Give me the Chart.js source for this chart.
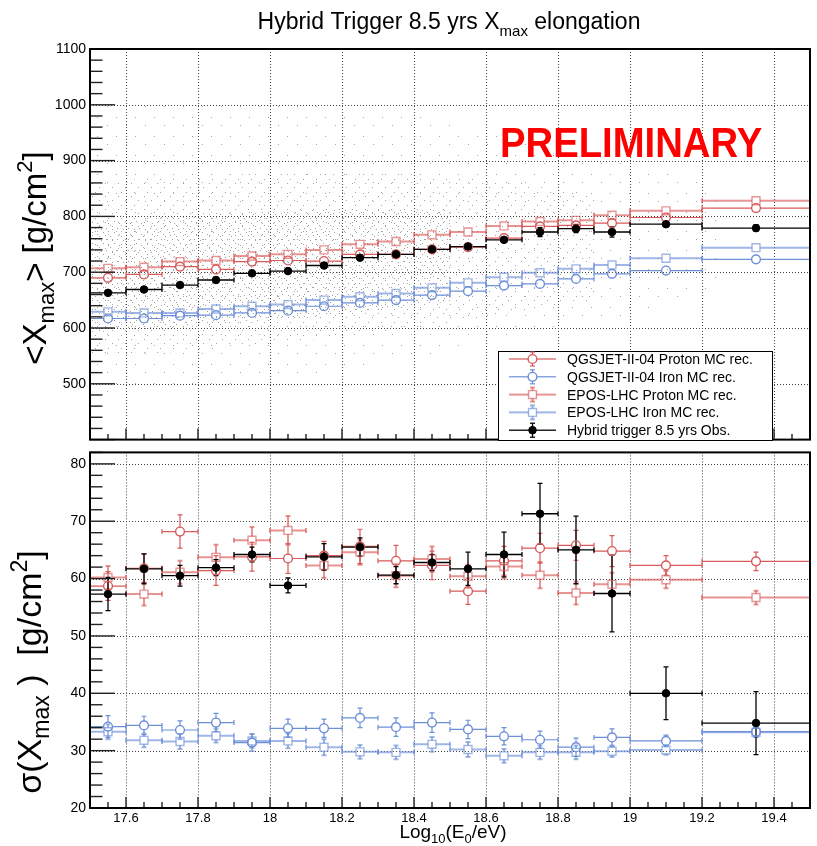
<!DOCTYPE html>
<html>
<head>
<meta charset="utf-8">
<script src="https://cdn.jsdelivr.net/npm/chart.js@4.4.0/dist/chart.umd.min.js"></script>
<style>
  html, body { margin: 0; padding: 0; background: #fff; }
  #wrap { position: relative; width: 817px; height: 846px; }
  #top { position: absolute; left: 0; top: 0; }
  #bot { position: absolute; left: 0; top: 440px; }
</style>
</head>
<body>
<div id="wrap">
  <canvas id="top" width="817" height="452"></canvas>
  <canvas id="bot" width="817" height="406"></canvas>
</div>
<script>
// energy bins, log10(E/eV)
const binLo     = [17.5, 17.6, 17.7, 17.8, 17.9, 18.0, 18.1, 18.2, 18.3, 18.4, 18.5, 18.6, 18.7, 18.8, 18.9, 19.0, 19.2];
const binHi     = [17.6, 17.7, 17.8, 17.9, 18.0, 18.1, 18.2, 18.3, 18.4, 18.5, 18.6, 18.7, 18.8, 18.9, 19.0, 19.2, 19.5];
const binCenter = [17.55, 17.65, 17.75, 17.85, 17.95, 18.05, 18.15, 18.25, 18.35, 18.45, 18.55, 18.65, 18.75, 18.85, 18.95, 19.1, 19.35];

// <Xmax> [g/cm2]
const xmaxQgsP  = [690, 696, 710, 705, 719, 721, 720, 732, 732, 741, 745, 761, 782, 784, 788, 798, 815];
const xmaxQgsFe = [617, 617, 622, 623, 627, 631, 639, 645, 650, 659, 666, 676, 679, 688, 697, 703, 723];
const xmaxEpoP  = [707, 709, 719, 721, 729, 732, 740, 750, 755, 767, 772, 783, 791, 793, 802, 810, 828];
const xmaxEpoFe = [629, 627, 627, 634, 639, 642, 650, 656, 662, 672, 681, 691, 699, 706, 713, 725, 744];
const xmaxData  = [663, 669, 677, 686, 698, 702, 712, 726, 732, 741, 746, 758, 772, 778, 772, 786, 779];
const xmaxMcErr   = [2, 2, 2, 2, 2, 2, 2, 2, 2, 2, 2, 2, 2, 2, 2, 2, 2];
const xmaxDataErr = [2, 2, 2, 2, 2, 2, 2, 2, 3, 3, 3, 4, 8, 7, 9, 4, 6];

// sigma(Xmax) [g/cm2]
const sigQgsP     = [58.7, 61.8, 68.2, 61.4, 63.8, 63.5, 64.0, 65.6, 63.1, 62.3, 57.8, 63.1, 65.3, 65.8, 64.8, 62.3, 63.0];
const sigQgsPErr  = [2.5, 2.5, 2.9, 2.6, 2.5, 2.6, 2.5, 3.0, 2.7, 2.5, 2.3, 2.5, 2.6, 2.6, 2.7, 1.7, 1.6];
const sigEpoP     = [60.2, 57.3, 61.1, 63.7, 66.7, 68.4, 62.3, 64.6, 60.5, 63.4, 60.4, 62.1, 60.6, 57.5, 59.0, 59.8, 56.7];
const sigEpoPErr  = [2.0, 2.0, 2.0, 2.2, 2.3, 2.5, 2.2, 2.2, 2.0, 2.2, 2.0, 2.1, 2.3, 2.0, 2.0, 1.5, 1.2];
const sigQgsFe    = [34.2, 34.4, 33.6, 34.9, 31.4, 33.9, 33.9, 35.7, 34.1, 34.9, 33.7, 32.5, 31.9, 30.6, 32.3, 31.7, 33.3];
const sigQgsFeErr = [1.9, 1.6, 1.6, 1.6, 1.5, 1.6, 1.6, 1.7, 1.6, 1.7, 1.6, 1.5, 1.5, 1.6, 1.5, 1.0, 1.0];
const sigEpoFe    = [33.3, 31.8, 31.6, 32.6, 31.7, 31.7, 30.6, 29.8, 29.7, 31.1, 30.2, 29.1, 29.7, 29.7, 29.9, 30.1, 33.2];
const sigEpoFeErr = [1.3, 1.2, 1.3, 1.2, 1.2, 1.3, 1.4, 1.2, 1.2, 1.3, 1.3, 1.2, 1.2, 1.2, 1.0, 0.8, 0.8];
const sigData     = [57.3, 61.7, 60.5, 61.9, 64.2, 58.8, 63.8, 65.5, 60.6, 62.8, 61.7, 64.2, 71.3, 65.0, 57.4, 40.0, 34.8];
const sigDataErr  = [2.9, 2.6, 1.8, 1.4, 1.3, 1.3, 2.3, 1.6, 1.5, 1.4, 2.9, 3.9, 5.3, 5.9, 6.7, 4.6, 5.5];

// spread of the individual events behind the means (rough outline of the point cloud)
const haloX  = [17.5, 17.7, 17.9, 18.1, 18.3, 18.5, 18.7, 18.9, 19.1, 19.25];
const haloLo = [480, 490, 500, 515, 535, 560, 590, 610, 640, 680];
const haloHi = [1000, 1005, 1005, 1000, 990, 970, 940, 910, 880, 850];
const midX   = [17.5, 17.7, 17.9, 18.1, 18.3, 18.5, 18.7, 18.9];
const midLo  = [550, 555, 565, 578, 592, 610, 630, 650];
const midHi  = [860, 870, 875, 880, 880, 870, 860, 840];
const coreX  = [17.5, 17.7, 17.9, 18.1, 18.3, 18.5];
const coreLo = [592, 598, 607, 618, 632, 648];
const coreHi = [790, 800, 806, 812, 815, 815];

// axis ticks
const xMajor   = [17.6, 17.8, 18.0, 18.2, 18.4, 18.6, 18.8, 19.0, 19.2, 19.4];
const yTopTick = [400, 500, 600, 700, 800, 900, 1000, 1100];
const yBotTick = [20, 30, 40, 50, 60, 70, 80];

const labels = {
  qgsP: 'QGSJET-II-04 Proton MC rec.',
  qgsFe: 'QGSJET-II-04 Iron MC rec.',
  epoP: 'EPOS-LHC Proton MC rec.',
  epoFe: 'EPOS-LHC Iron MC rec.',
  data: 'Hybrid trigger 8.5 yrs Obs.'
};

const FONT = '"Liberation Sans", Arial, Helvetica, sans-serif';
const RED = '#d85a5a', BLUE = '#6c8fd8';
const RED2 = 'rgba(216,90,90,0.65)', BLUE2 = 'rgba(108,143,216,0.65)';

const pts = (vals, errs) => binCenter.map((x, i) => ({ x, y: vals[i], lo: binLo[i], hi: binHi[i], e: errs[i] }));

function series(key, vals, errs, color, style, open, lw) {
  return {
    label: labels[key], data: pts(vals, errs), err: true, errWidth: lw, open,
    borderColor: color, backgroundColor: open ? 'rgba(0,0,0,0)' : color,
    pointStyle: style, pointRadius: style === 'rect' ? 5.6 : (open ? 4.4 : 3.8),
    pointBorderWidth: open ? 1.4 : 1, showLine: false
  };
}

function dotPattern(size, dots, color) {
  const c = document.createElement('canvas');
  c.width = c.height = size;
  const g = c.getContext('2d');
  g.fillStyle = color;
  dots.forEach(d => g.fillRect(d[0], d[1], 1, 1));
  return document.getElementById('top').getContext('2d').createPattern(c, 'repeat');
}

function band(xs, lo, hi, pattern) {
  const base = { type: 'line', pointRadius: 0, borderWidth: 0, borderColor: 'rgba(0,0,0,0)' };
  return [
    { ...base, data: xs.map((x, i) => ({ x, y: lo[i] })), fill: false },
    { ...base, data: xs.map((x, i) => ({ x, y: hi[i] })), fill: '-1', backgroundColor: pattern }
  ];
}

function richText(ctx, parts, x, y, align) {
  let w = 0;
  parts.forEach(p => { ctx.font = (p[2] || '') + p[1] + 'px ' + FONT; w += ctx.measureText(p[0]).width; });
  let cx = align === 'center' ? x - w / 2 : x;
  ctx.textAlign = 'left';
  ctx.textBaseline = 'alphabetic';
  parts.forEach(p => {
    ctx.font = (p[2] || '') + p[1] + 'px ' + FONT;
    ctx.fillText(p[0], cx, y + (p[3] || 0));
    cx += ctx.measureText(p[0]).width;
  });
}

function seg(ctx, x0, y0, x1, y1) {
  ctx.beginPath(); ctx.moveTo(x0, y0); ctx.lineTo(x1, y1); ctx.stroke();
}

// grid (dotted), frame and inward ticks, ROOT style
const rootAxes = {
  id: 'rootAxes',
  beforeDatasetsDraw(chart, args, o) {
    const { ctx, chartArea: a, scales: { x, y } } = chart;
    ctx.save();
    ctx.strokeStyle = '#444'; ctx.lineWidth = 1; ctx.setLineDash([1, 2]);
    xMajor.forEach(v => { const p = Math.round(x.getPixelForValue(v)) + 0.5; seg(ctx, p, a.top, p, a.bottom); });
    o.yTicks.forEach(v => {
      const p = Math.round(y.getPixelForValue(v)) + 0.5;
      if (p > a.top + 2 && p < a.bottom - 2) seg(ctx, a.left, p, a.right, p);
    });
    ctx.restore();
  },
  afterDatasetsDraw(chart, args, o) {
    const { ctx, chartArea: a, scales: { x, y } } = chart;
    ctx.save();
    ctx.strokeStyle = '#222'; ctx.lineWidth = 1.4;
    for (let v = o.yMin; v <= o.yMax + 1e-9; v += o.yMinor) {
      const p = y.getPixelForValue(v);
      if (p < a.top || p > a.bottom) continue;
      const major = Math.abs(v / o.yStep - Math.round(v / o.yStep)) < 1e-6;
      seg(ctx, a.left, p, a.left + (major ? 25 : 12.5), p);
    }
    for (let v = 17.5; v <= 19.5 + 1e-9; v += 0.05) {
      const p = x.getPixelForValue(v);
      const major = xMajor.some(m => Math.abs(m - v) < 1e-6);
      seg(ctx, p, a.bottom, p, a.bottom - (major ? 11 : o.xMinorLen));
    }
    ctx.strokeStyle = '#000'; ctx.lineWidth = 2;
    ctx.strokeRect(a.left, a.top, a.right - a.left, a.bottom - a.top);
    ctx.restore();
  }
};

// x bin width bars and vertical error bars
const errBars = {
  id: 'errBars',
  beforeDatasetsDraw(chart) {
    const { ctx, chartArea: a, scales: { x, y } } = chart;
    ctx.save();
    ctx.beginPath(); ctx.rect(a.left, a.top, a.right - a.left, a.bottom - a.top); ctx.clip();
    chart.data.datasets.slice().reverse().forEach(ds => {
      if (!ds.err) return;
      ctx.strokeStyle = ds.borderColor; ctx.lineWidth = ds.errWidth;
      const r = ds.open ? (ds.pointStyle === 'rect' ? ds.pointRadius * 0.707 : ds.pointRadius) : 0;
      ds.data.forEach(p => {
        const px = x.getPixelForValue(p.x), py = y.getPixelForValue(p.y);
        const x0 = x.getPixelForValue(p.lo), x1 = x.getPixelForValue(p.hi);
        const yl = y.getPixelForValue(p.y - p.e), yh = y.getPixelForValue(p.y + p.e);
        seg(ctx, x0, py, px - r, py); seg(ctx, px + r, py, x1, py);
        seg(ctx, x0, py - 2.5, x0, py + 2.5); seg(ctx, x1, py - 2.5, x1, py + 2.5);
        if (yl - py > r) {
          seg(ctx, px, py + r, px, yl); seg(ctx, px, py - r, px, yh);
          seg(ctx, px - 2.5, yl, px + 2.5, yl); seg(ctx, px - 2.5, yh, px + 2.5, yh);
        }
      });
    });
    ctx.restore();
  }
};

// boxed legend inside the top pad
const boxLegend = {
  id: 'boxLegend',
  afterDraw(chart) {
    const { ctx } = chart;
    const order = [1, 2, 3, 4, 0];
    ctx.save();
    ctx.fillStyle = '#fff'; ctx.fillRect(498.5, 351.5, 274, 89);
    ctx.strokeStyle = '#000'; ctx.lineWidth = 1; ctx.strokeRect(498.5, 351.5, 274, 89);
    order.forEach((di, i) => {
      const ds = chart.data.datasets[di];
      const yy = 359 + i * 17.8, xm = 532.5;
      const r = ds.open ? (ds.pointStyle === 'rect' ? ds.pointRadius * 0.707 : ds.pointRadius) : 0;
      ctx.strokeStyle = ds.borderColor; ctx.lineWidth = ds.errWidth;
      seg(ctx, 509, yy, xm - r, yy); seg(ctx, xm + r, yy, 556, yy);
      seg(ctx, xm, yy - r, xm, yy - 7); seg(ctx, xm, yy + r, xm, yy + 7);
      seg(ctx, xm - 2.5, yy - 7, xm + 2.5, yy - 7); seg(ctx, xm - 2.5, yy + 7, xm + 2.5, yy + 7);
      ctx.fillStyle = ds.backgroundColor; ctx.lineWidth = ds.pointBorderWidth;
      Chart.helpers.drawPoint(ctx, { pointStyle: ds.pointStyle, radius: ds.pointRadius, borderWidth: ds.pointBorderWidth, rotation: 0 }, xm, yy);
      ctx.fillStyle = '#000';
      richText(ctx, [[ds.label, 14]], 567, yy + 5);
    });
    ctx.restore();
  }
};

const topTexts = {
  id: 'topTexts',
  afterDraw(chart) {
    const { ctx } = chart;
    ctx.save();
    ctx.fillStyle = '#000';
    richText(ctx, [['Hybrid Trigger 8.5 yrs X', 23], ['max', 15, '', 7], [' elongation', 23]], 449, 29, 'center');
    ctx.translate(46, 258); ctx.rotate(-Math.PI / 2);
    richText(ctx, [['<X', 33], ['max', 22, '', 8], ['> [g/cm', 33], ['2', 22, '', -14], [']', 33]], 0, 0, 'center');
    ctx.restore();
    ctx.save();
    ctx.fillStyle = '#ff0000';
    ctx.translate(500, 157); ctx.scale(0.89, 1);
    richText(ctx, [['PRELIMINARY', 43, 'bold ']], 0, 0);
    ctx.restore();
  }
};

const botTexts = {
  id: 'botTexts',
  afterDraw(chart) {
    const { ctx } = chart;
    ctx.save();
    ctx.fillStyle = '#000';
    richText(ctx, [['Log', 19], ['10', 13, '', 5], ['(E', 19], ['0', 13, '', 5], ['/eV)', 19]], 453, 398, 'center');
    ctx.translate(41, 232); ctx.rotate(-Math.PI / 2);
    richText(ctx, [['\u03c3(X', 34], ['max', 23, '', 8], [' )  [g/cm', 34], ['2', 23, '', -14], [']', 34]], 0, 0, 'center');
    ctx.restore();
  }
};

const tickFont = { family: FONT, size: 14 };

function baseOptions(yMin, yMax, yTicks, pad, xShow) {
  return {
    responsive: false, animation: false, events: [],
    layout: { padding: pad },
    plugins: {
      legend: { display: false }, tooltip: { enabled: false }, title: { display: false },
      filler: { drawTime: 'beforeDatasetsDraw' }
    },
    scales: {
      x: {
        type: 'linear', min: 17.5, max: 19.5, display: xShow,
        afterBuildTicks: s => { s.ticks = xMajor.map(v => ({ value: v })); },
        afterFit: s => { s.height = xShow ? 38 : 0; },
        ticks: { font: { family: FONT, size: 13 }, color: '#000', padding: 3, maxRotation: 0, autoSkip: false,
                 callback: v => String(+(+v).toFixed(1)) },
        grid: { display: false, drawTicks: false }, border: { display: false }
      },
      y: {
        type: 'linear', min: yMin, max: yMax,
        afterBuildTicks: s => { s.ticks = yTicks.map(v => ({ value: v })); },
        afterFit: s => { s.width = 90; },
        ticks: { font: tickFont, color: '#000', padding: 4, callback: v => (v === 400 ? '' : String(v)) },
        grid: { display: false, drawTicks: false }, border: { display: false }
      }
    }
  };
}

// top pad: <Xmax>
const topPat = {
  halo: dotPattern(19, [[2, 3], [12, 11]], '#a8a8a8'),
  mid: dotPattern(13, [[1, 1], [8, 5], [4, 10]], '#a4a4a4'),
  core: dotPattern(11, [[0, 5], [4, 1], [7, 8], [9, 3], [2, 9]], '#a0a0a0')
};
const topSets = [
  series('data', xmaxData, xmaxDataErr, '#000', 'circle', false, 1.3),
  series('qgsP', xmaxQgsP, xmaxMcErr, RED, 'circle', true, 1.2),
  series('qgsFe', xmaxQgsFe, xmaxMcErr, BLUE, 'circle', true, 1.2),
  series('epoP', xmaxEpoP, xmaxMcErr, RED2, 'rect', true, 2),
  series('epoFe', xmaxEpoFe, xmaxMcErr, BLUE2, 'rect', true, 2),
  ...band(haloX, haloLo, haloHi, topPat.halo),
  ...band(midX, midLo, midHi, topPat.mid),
  ...band(coreX, coreLo, coreHi, topPat.core)
];
const topOpts = baseOptions(400, 1100, yTopTick, { left: 0, right: 1, top: 49, bottom: 4 }, false);
topOpts.plugins.rootAxes = { yTicks: yTopTick, yMin: 400, yMax: 1100, yStep: 100, yMinor: 20, xMinorLen: 5.5 };
new Chart(document.getElementById('top'), {
  type: 'scatter',
  data: { datasets: topSets },
  options: topOpts,
  plugins: [rootAxes, errBars, topTexts, boxLegend]
});

// bottom pad: sigma(Xmax)
const botSets = [
  series('data', sigData, sigDataErr, '#000', 'circle', false, 1.3),
  series('qgsP', sigQgsP, sigQgsPErr, RED, 'circle', true, 1.2),
  series('qgsFe', sigQgsFe, sigQgsFeErr, BLUE, 'circle', true, 1.2),
  series('epoP', sigEpoP, sigEpoPErr, RED2, 'rect', true, 2),
  series('epoFe', sigEpoFe, sigEpoFeErr, BLUE2, 'rect', true, 2)
];
const botOpts = baseOptions(20, 82, yBotTick, { left: 0, right: 1, top: 8, bottom: 0 }, true);
botOpts.plugins.rootAxes = { yTicks: yBotTick, yMin: 20, yMax: 82, yStep: 10, yMinor: 2, xMinorLen: 6 };
new Chart(document.getElementById('bot'), {
  type: 'scatter',
  data: { datasets: botSets },
  options: botOpts,
  plugins: [rootAxes, errBars, botTexts]
});
</script>
</body>
</html>
